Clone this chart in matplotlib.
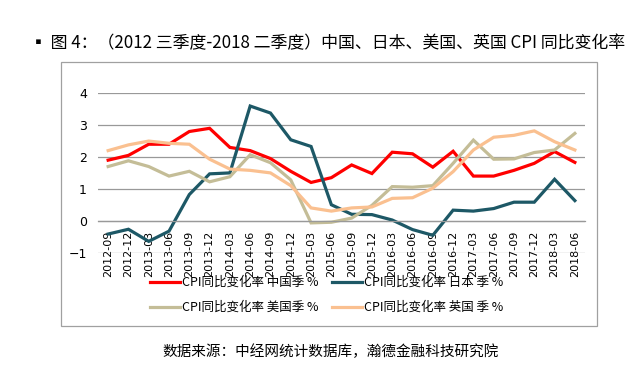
import matplotlib
matplotlib.use("Agg")
import matplotlib.pyplot as plt
from matplotlib.patches import Rectangle

plt.rcParams['font.family'] = ['Noto Sans CJK SC', 'DejaVu Sans']

# quarters 2012-09 .. 2018-06
quarters = ['2012-09', '2012-12', '2013-03', '2013-06', '2013-09', '2013-12',
            '2014-03', '2014-06', '2014-09', '2014-12', '2015-03', '2015-06',
            '2015-09', '2015-12', '2016-03', '2016-06', '2016-09', '2016-12',
            '2017-03', '2017-06', '2017-09', '2017-12', '2018-03', '2018-06']

china = [1.9, 2.05, 2.4, 2.4, 2.8, 2.9, 2.3, 2.2, 1.95, 1.55, 1.2, 1.35,
         1.75, 1.48, 2.15, 2.1, 1.68, 2.18, 1.4, 1.4, 1.58, 1.8, 2.17, 1.83]
japan = [-0.42, -0.27, -0.65, -0.33, 0.82, 1.47, 1.5, 3.6, 3.38, 2.54, 2.33, 0.5,
         0.2, 0.19, 0.02, -0.28, -0.46, 0.33, 0.3, 0.38, 0.58, 0.58, 1.3, 0.63]
usa = [1.7, 1.88, 1.7, 1.4, 1.55, 1.22, 1.38, 2.07, 1.82, 1.28, -0.07, -0.05,
       0.08, 0.48, 1.07, 1.05, 1.1, 1.8, 2.53, 1.93, 1.94, 2.14, 2.22, 2.74]
uk = [2.2, 2.38, 2.5, 2.43, 2.4, 1.93, 1.62, 1.58, 1.5, 1.1, 0.4, 0.3,
      0.4, 0.43, 0.7, 0.72, 1.02, 1.54, 2.22, 2.62, 2.68, 2.82, 2.48, 2.22]

names = ['CPI同比变化率 中国季 %', 'CPI同比变化率 日本 季 %',
         'CPI同比变化率 美国季 %', 'CPI同比变化率 英国 季 %']
colors = ['#ff0000', '#1d5866', '#c4bd97', '#fac090']

fig = plt.figure(figsize=(6.4, 3.85), dpi=100)

# outer chart box
fig.patches.append(Rectangle((61 / 640, 1 - 326 / 385), 536 / 640, 264 / 385,
                             transform=fig.transFigure, fill=False,
                             edgecolor='#a0a0a0', linewidth=0.9))

ax = fig.add_axes([98 / 640, 1 - 252.5 / 385, 487 / 640, 159.2 / 385])
ax.set_facecolor('none')
x = list(range(len(quarters)))
lines = []
for series, name, c in zip([china, japan, usa, uk], names, colors):
    ln, = ax.plot(x, series, color=c, lw=2.3, label=name, solid_joinstyle='miter')
    lines.append(ln)

ax.set_xlim(-0.5, len(quarters) - 0.5)
ax.set_ylim(-1, 4)
ax.set_yticks([-1, 0, 1, 2, 3, 4])
ax.yaxis.grid(True, color='#999999', lw=0.9)
ax.set_axisbelow(True)
for s in ['top', 'right', 'left']:
    ax.spines[s].set_visible(False)
ax.spines['bottom'].set_position(('data', 0))
ax.spines['bottom'].set_color('#999999')
ax.spines['bottom'].set_linewidth(0.9)
ax.set_xticks(x)
ax.set_xticklabels(quarters, rotation=90, fontsize=8, family=['DejaVu Sans'])
ax.tick_params(axis='x', length=0, pad=7)
ax.tick_params(axis='y', length=0, labelsize=9, pad=8)
for lab in ax.get_yticklabels():
    lab.set_family(['DejaVu Sans'])

# row 1: China, Japan; row 2: USA, UK (legend fills column by column)
order = [0, 2, 1, 3]
fig.legend([lines[i] for i in order], [names[i] for i in order],
           loc='upper left', bbox_to_anchor=(145 / 640, 1 - 271 / 385), ncol=2,
           frameon=False, fontsize=9, handlelength=2.4, handletextpad=0.2,
           columnspacing=1.0, labelspacing=0.95, borderaxespad=0)

fig.text(30 / 640, 1 - 43 / 385,
         '▪ 图 4：（2012 三季度-2018 二季度）中国、日本、美国、英国 CPI 同比变化率',
         fontsize=12.2, va='center', ha='left')
fig.text(331 / 640, 1 - 352 / 385, '数据来源：中经网统计数据库，瀚德金融科技研究院',
         fontsize=10.5, va='center', ha='center')

fig.savefig('out.png', dpi=100)
